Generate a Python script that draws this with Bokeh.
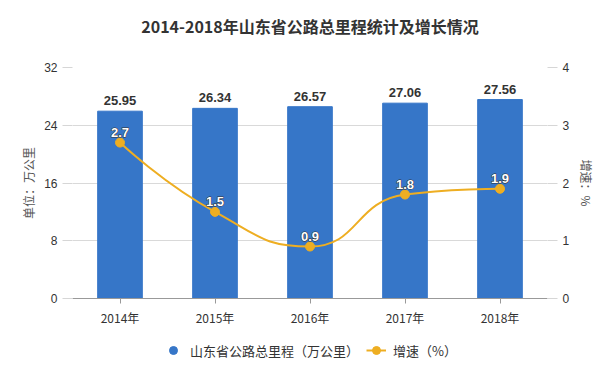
from bokeh.plotting import figure
from bokeh.layouts import column
from bokeh.models import (FactorRange, Range1d, LinearAxis, FixedTicker, Legend,
                          LegendItem, ColumnDataSource, Label)
from bokeh.core.properties import value
from bokeh.embed import file_html
from bokeh.resources import INLINE
import numpy as np

# ---- data ----
years = ["2014年", "2015年", "2016年", "2017年", "2018年"]
mileage = [25.95, 26.34, 26.57, 27.06, 27.56]
growth = [2.7, 1.5, 0.9, 1.8, 1.9]
left_ticks = [0, 8, 16, 24, 32]
right_ticks = [0, 1, 2, 3, 4]
title_text = "2014-2018年山东省公路总里程统计及增长情况"

BLUE = "#3676c8"
GOLD = "#eeae22"
CJK = "Noto Sans CJK SC"
NUM = "Liberation Sans"

# ---- title strip ----
tf = figure(width=614, height=50, x_range=Range1d(0, 1), y_range=Range1d(0, 1),
            x_axis_type=None, y_axis_type=None, min_border=0,
            toolbar_location=None, output_backend="svg", title_location=None)
tf.grid.visible = False
tf.outline_line_color = None
tf.add_layout(Label(x=0.5, y=0.5, text=title_text, text_align="center",
                    text_baseline="middle", text_font=CJK,
                    text_font_size="16px", text_font_style="bold",
                    text_color="#333333"))

# ---- main chart ----
p = figure(width=614, height=286,
           x_range=FactorRange(factors=years),
           y_range=Range1d(0, 32),
           output_backend="svg", toolbar_location=None, title_location=None,
           min_border_left=72, min_border_right=67,
           min_border_top=17, min_border_bottom=38)
p.outline_line_color = None
p.background_fill_color = "white"

# left axis
ya = p.yaxis[0]
ya.ticker = FixedTicker(ticks=left_ticks)
ya.axis_line_color = None
ya.major_tick_out = 10
ya.major_tick_in = 0
ya.major_tick_line_color = "#d6d6d6"
ya.minor_tick_line_color = None
ya.major_label_text_font = NUM
ya.major_label_text_font_size = "12px"
ya.major_label_text_color = "#333333"
ya.axis_label = "单位：万公里"
ya.axis_label_text_font = CJK
ya.axis_label_text_font_size = "12px"
ya.axis_label_text_font_style = "normal"
ya.axis_label_text_color = "#555555"
ya.axis_label_standoff = 4

p.ygrid.ticker = FixedTicker(ticks=left_ticks)
p.ygrid.grid_line_color = "#d9d9d9"
p.xgrid.grid_line_color = None

# right axis
p.extra_y_ranges = {"r": Range1d(0, 4)}
ra = LinearAxis(y_range_name="r", ticker=FixedTicker(ticks=right_ticks))
ra.axis_line_color = None
ra.major_tick_out = 10
ra.major_tick_in = 0
ra.major_tick_line_color = "#d6d6d6"
ra.minor_tick_line_color = None
ra.major_label_text_font = NUM
ra.major_label_text_font_size = "12px"
ra.major_label_text_color = "#333333"
ra.axis_label = "增速：%"
ra.axis_label_text_font = CJK
ra.axis_label_text_font_size = "12px"
ra.axis_label_text_font_style = "normal"
ra.axis_label_text_color = "#555555"
ra.axis_label_standoff = 6
p.add_layout(ra, "right")

# x axis
xa = p.xaxis[0]
xa.axis_line_color = "#999999"
xa.major_tick_out = 5
xa.major_tick_in = 0
xa.major_tick_line_color = "#999999"
xa.major_label_text_font = CJK
xa.major_label_text_font_size = "12px"
xa.major_label_text_color = "#333333"

src = ColumnDataSource(dict(year=years, mileage=mileage,
                            label=[f"{v:.2f}" for v in mileage],
                            growth=growth,
                            glabel=[f"{v}" for v in growth]))

# bars
p.vbar(x="year", top="mileage", width=0.47, color=BLUE, source=src)
p.text(x="year", y="mileage", text="label", source=src,
       text_align="center", text_baseline="bottom", y_offset=-6,
       text_font=value(NUM), text_font_size="13px", text_font_style="bold",
       text_color="#333333")

# smooth growth curve: bezier segments whose control points are derived from
# the data points (bounded smoothing, no overshoot between neighbours)
XS, YS = 95.0, 57.75  # approx px per unit, used only for segment weighting
px = (np.arange(len(years)) + 0.5) * XS
py = np.array(growth, dtype=float) * YS
n = len(px)
smooth = 0.5
cin = [(px[0], py[0])] * n
cout = [(px[-1], py[-1])] * n
cin = list(cin); cout = list(cout)
cout[0] = (px[0], py[0])
cin[n - 1] = (px[n - 1], py[n - 1])


def clamp(v, a, b):
    return min(max(v, min(a, b)), max(a, b))


for i in range(1, n - 1):
    x, y = px[i], py[i]
    x0, y0, x1, y1 = px[i - 1], py[i - 1], px[i + 1], py[i + 1]
    vx, vy = x1 - x0, y1 - y0
    lp_ = np.hypot(x - x0, y - y0)
    ln_ = np.hypot(x1 - x, y1 - y)
    r = ln_ / (ln_ + lp_)
    ncx = clamp(x + vx * smooth * r, x, x1)
    ncy = clamp(y + vy * smooth * r, y, y1)
    vx, vy = ncx - x, ncy - y
    pcx = clamp(x - vx * lp_ / ln_, x0, x)
    pcy = clamp(y - vy * lp_ / ln_, y0, y)
    vx, vy = x - pcx, y - pcy
    ncx = x + vx * ln_ / lp_
    ncy = y + vy * ln_ / lp_
    cin[i] = (pcx, pcy)
    cout[i] = (ncx, ncy)

bez = ColumnDataSource(dict(
    x0=px[:-1] / XS, y0=py[:-1] / YS, x1=px[1:] / XS, y1=py[1:] / YS,
    cx0=[c[0] / XS for c in cout[:-1]], cy0=[c[1] / YS for c in cout[:-1]],
    cx1=[c[0] / XS for c in cin[1:]], cy1=[c[1] / YS for c in cin[1:]]))
p.bezier(x0="x0", y0="y0", x1="x1", y1="y1", cx0="cx0", cy0="cy0",
         cx1="cx1", cy1="cy1", source=bez, line_color=GOLD, line_width=2,
         y_range_name="r")
p.scatter(x="year", y="growth", source=src, y_range_name="r",
          size=9, color=GOLD)
# line labels: dark outline underneath, white fill on top
p.text(x="year", y="growth", text="glabel", source=src, y_range_name="r",
       text_align="center", text_baseline="bottom", y_offset=-6,
       text_font=value(NUM), text_font_size="13px", text_font_style="bold",
       text_color="#333333", text_outline_color="#333333")
p.text(x="year", y="growth", text="glabel", source=src, y_range_name="r",
       text_align="center", text_baseline="bottom", y_offset=-6,
       text_font=value(NUM), text_font_size="13px", text_font_style="bold",
       text_color="white")

# ---- legend strip (separate small figure, proxies kept out of view) ----
lp = figure(width=614, height=30, x_range=FactorRange(factors=years),
            y_range=Range1d(100, 101), output_backend="svg",
            x_axis_type=None, y_axis_type=None, title_location=None,
            toolbar_location=None, min_border=0)
lp.grid.visible = False
lp.outline_line_color = None
lb = lp.scatter(x=years, y=mileage, marker="circle", size=10, color=BLUE)
ll = lp.line(x=years, y=growth, line_color=GOLD, line_width=2)
lm = lp.scatter(x=years, y=growth, marker="circle", size=9, color=GOLD)
legend = Legend(items=[
    LegendItem(label="山东省公路总里程（万公里）", renderers=[lb]),
    LegendItem(label="增速（%）", renderers=[ll, lm]),
], orientation="horizontal", location=(91, 4))
legend.border_line_color = None
legend.background_fill_alpha = 0
legend.label_text_font = CJK
legend.label_text_font_size = "13px"
legend.label_text_color = "#333333"
legend.spacing = 7
legend.glyph_width = 20
legend.glyph_height = 24
legend.label_standoff = 7
legend.padding = 0
legend.margin = 0
lp.add_layout(legend, "center")

open("out.html", "w").write(file_html(column(tf, p, lp, spacing=0), INLINE))
